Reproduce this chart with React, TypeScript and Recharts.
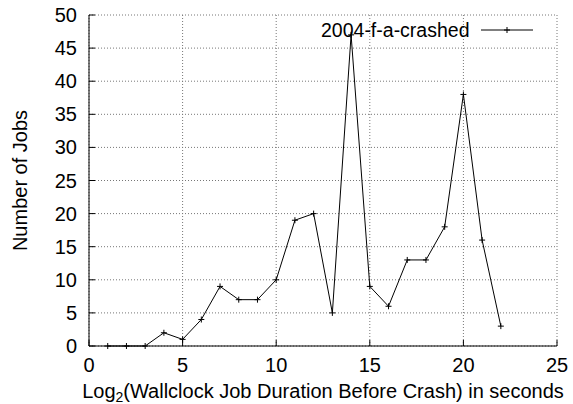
import React from "react";
import {
  LineChart,
  Line,
  XAxis,
  YAxis,
  CartesianGrid,
  Legend,
} from "recharts";

const durations = [1, 2, 3, 4, 5, 6, 7, 8, 9, 10, 11, 12, 13, 14, 15, 16, 17, 18, 19, 20, 21, 22];
const jobs = [0, 0, 0, 2, 1, 4, 9, 7, 7, 10, 19, 20, 5, 47, 9, 6, 13, 13, 18, 38, 16, 3];
const xTicks = [0, 5, 10, 15, 20, 25];
const yTicks = [0, 5, 10, 15, 20, 25, 30, 35, 40, 45, 50];
const seriesName = "2004-f-a-crashed";

const FONT = "'Liberation Sans', Arial, Helvetica, sans-serif";
const FS = 20;
const TICK_LEN = 6;

const data = durations.map((d, i) => ({ x: d, y: jobs[i] }));

function BottomTick(props: any) {
  const { x, y, payload } = props;
  return (
    <g>
      <line x1={x} y1={y} x2={x} y2={y - TICK_LEN} stroke="#000" />
      <text x={x} y={y + 26} textAnchor="middle" fontFamily={FONT} fontSize={FS} fill="#000">
        {payload.value}
      </text>
    </g>
  );
}

function TopTick(props: any) {
  const { x, y } = props;
  return <line x1={x} y1={y} x2={x} y2={y + TICK_LEN} stroke="#000" />;
}

function LeftTick(props: any) {
  const { x, y, payload } = props;
  return (
    <g>
      <line x1={x} y1={y} x2={x + TICK_LEN} y2={y} stroke="#000" />
      <text x={x - 12} y={y + 7} textAnchor="end" fontFamily={FONT} fontSize={FS} fill="#000">
        {payload.value}
      </text>
    </g>
  );
}

function RightTick(props: any) {
  const { x, y } = props;
  return <line x1={x} y1={y} x2={x - TICK_LEN} y2={y} stroke="#000" />;
}

function PlusDot(props: any) {
  const { cx, cy } = props;
  if (cx == null || cy == null) return null;
  return (
    <g>
      <line x1={cx - 3} y1={cy} x2={cx + 3} y2={cy} stroke="#000" />
      <line x1={cx} y1={cy - 3} x2={cx} y2={cy + 3} stroke="#000" />
    </g>
  );
}

function XLabel(props: any) {
  const vb = props.viewBox;
  const cx = vb.x + vb.width / 2;
  return (
    <text x={cx} y={vb.y + 52} textAnchor="middle" fontFamily={FONT} fontSize={FS} fill="#000">
      Log
      <tspan dy={4} fontSize={14}>2</tspan>
      <tspan dy={-4}>(Wallclock Job Duration Before Crash) in seconds</tspan>
    </text>
  );
}

function YLabel(props: any) {
  const vb = props.viewBox;
  const cy = vb.y + vb.height / 2;
  return (
    <text
      x={27}
      y={cy}
      transform={`rotate(-90 27 ${cy})`}
      textAnchor="middle"
      fontFamily={FONT}
      fontSize={FS}
      fill="#000"
    >
      Number of Jobs
    </text>
  );
}

function LegendBox() {
  return (
    <svg width={260} height={35} style={{ display: "block" }}>
      <text x={21} y={22} fontFamily={FONT} fontSize={19.5} fill="#000">
        {seriesName}
      </text>
      <line x1={181} y1={15} x2={233} y2={15} stroke="#000" />
      <line x1={204} y1={15} x2={210} y2={15} stroke="#000" />
      <line x1={207} y1={12} x2={207} y2={18} stroke="#000" />
    </svg>
  );
}

export default function App() {
  return (
    <div style={{ position: "absolute", left: 0, top: 0, background: "#fff" }}>
      <LineChart width={573} height={404} data={data} margin={{ top: 15, right: 16, left: 0, bottom: 0 }}>
        <CartesianGrid stroke="#777" strokeDasharray="1 2" />
        <XAxis
          dataKey="x"
          type="number"
          domain={[0, 25]}
          ticks={xTicks}
          height={58}
          tickSize={0}
          tickMargin={0}
          tickLine={false}
          tick={<BottomTick />}
          axisLine={{ stroke: "#000" }}
          label={<XLabel />}
        />
        <XAxis
          xAxisId="top"
          orientation="top"
          dataKey="x"
          type="number"
          domain={[0, 25]}
          ticks={xTicks}
          height={0}
          tickSize={0}
          tickMargin={0}
          tickLine={false}
          tick={<TopTick />}
          axisLine={{ stroke: "#000" }}
        />
        <YAxis
          type="number"
          domain={[0, 50]}
          ticks={yTicks}
          width={89}
          tickSize={0}
          tickMargin={0}
          tickLine={false}
          tick={<LeftTick />}
          axisLine={{ stroke: "#000" }}
          label={<YLabel />}
        />
        <YAxis
          yAxisId="right"
          orientation="right"
          type="number"
          domain={[0, 50]}
          ticks={yTicks}
          width={0}
          tickSize={0}
          tickMargin={0}
          tickLine={false}
          tick={<RightTick />}
          axisLine={{ stroke: "#000" }}
        />
        <Legend
          layout="horizontal"
          verticalAlign="middle"
          content={() => <LegendBox />}
          wrapperStyle={{ top: 15, left: 300, width: 260, height: 35 }}
        />
        <Line
          type="linear"
          dataKey="y"
          name={seriesName}
          stroke="#000"
          strokeWidth={1}
          dot={<PlusDot />}
          activeDot={false}
          isAnimationActive={false}
        />
      </LineChart>
    </div>
  );
}
